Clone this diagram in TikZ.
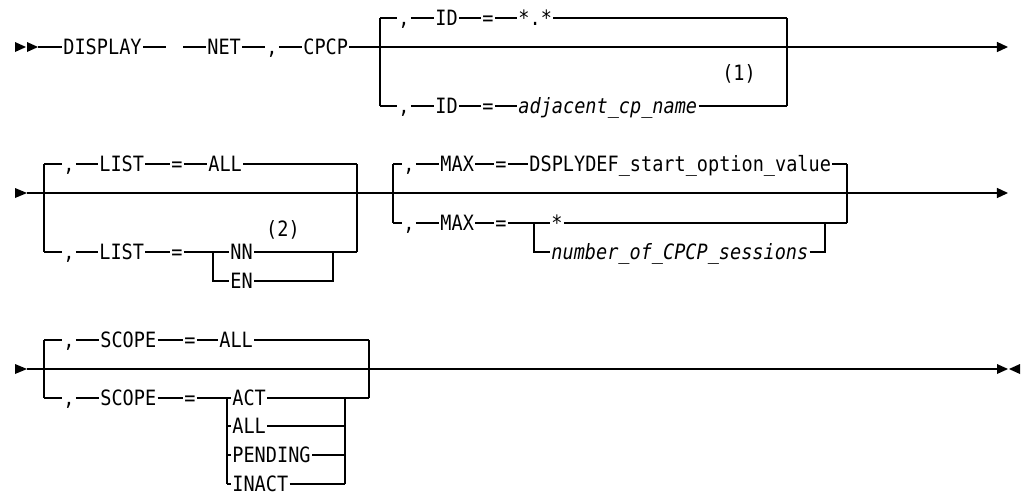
\documentclass[tikz,border=0pt]{standalone}
\usepackage{fontspec}
\setmainfont[FakeStretch=0.88]{DejaVu Sans Mono}
\usepackage{tikz}
\usetikzlibrary{positioning, arrows.meta}

\begin{document}
\begin{tikzpicture}[
    x=0.02cm, y=-0.02cm,
    kw/.style={anchor=west, inner xsep=0.6pt, inner ysep=0pt, text height=8.6pt, text depth=0pt, font=\fontsize{12}{14}\selectfont},
    var/.style={kw, font=\fontsize{12}{14}\selectfont\itshape},
    fnote/.style={font=\fontsize{12}{14}\selectfont},
    rail/.style={line width=0.8pt},
    arr/.style={rail, -{Triangle[length=6.3pt, width=5.7pt]}},
]
\useasboundingbox (0,0) rectangle (1024,494);

% --- Row 1: DISPLAY NET,CPCP ---
\fill (15,42) -- (26,47) -- (15,52) -- cycle;
\fill (27,42) -- (38,47) -- (27,52) -- cycle;
\coordinate (A0) at (38,47);
\node[kw] (DISP) at (62,47) {DISPLAY};
\coordinate (A1) at (166,47);
\coordinate (A2) at (183,47);
\node[kw] (NET) at (206,47) {NET};
\node[kw] (C0) at (265,47) {,};
\node[kw] (CPCP) at (302,47) {CPCP};
\coordinate (A3) at (1008,47);
\draw[rail] (A0) -- (DISP) -- (A1);
\draw[rail] (A2) -- (NET) -- (C0) -- (CPCP);
\draw[arr] (CPCP) -- (A3);

% ID box
\coordinate (IDtl) at (380,18);
\coordinate (IDbl) at (380,106);
\coordinate (IDtr) at (787,18);
\coordinate (IDbr) at (787,106);
\draw[rail] (IDtl) -- (IDbl);
\draw[rail] (IDtr) -- (IDbr);
\node[kw] (IDc1) at (397,18) {,};
\node[kw] (ID1) at (434,18) {ID};
\node[kw] (IDe1) at (481,18) {=};
\node[kw] (IDv1) at (517,18) {*.*};
\draw[rail] (IDtl) -- (IDc1) -- (ID1) -- (IDe1) -- (IDv1) -- (IDtr);
\node[kw] (IDc2) at (397,106) {,};
\node[kw] (ID2) at (434,106) {ID};
\node[kw] (IDe2) at (481,106) {=};
\node[var] (IDv2) at (517,106) {adjacent\_cp\_name};
\draw[rail] (IDbl) -- (IDc2) -- (ID2) -- (IDe2) -- (IDv2) -- (IDbr);
\node[fnote] (N1) at (739,74) {(1)};

% --- Row 2: LIST and MAX ---
\fill (15,188) -- (27,193) -- (15,198) -- cycle;
\coordinate (B0) at (27,193);
\coordinate (B1) at (1008,193);
\draw[arr] (B0) -- (B1);

% LIST box
\coordinate (Ltl) at (44,164);
\coordinate (Lbl) at (44,252);
\coordinate (Ltr) at (357,164);
\coordinate (Lbr) at (357,252);
\draw[rail] (Ltl) -- (Lbl);
\draw[rail] (Ltr) -- (Lbr);
\node[kw] (Lc1) at (62,164) {,};
\node[kw] (L1) at (98,164) {LIST};
\node[kw] (Le1) at (170,164) {=};
\node[kw] (Lv1) at (207,164) {ALL};
\draw[rail] (Ltl) -- (Lc1) -- (L1) -- (Le1) -- (Lv1) -- (Ltr);
\node[kw] (Lc2) at (62,252) {,};
\node[kw] (L2) at (98,252) {LIST};
\node[kw] (Le2) at (170,252) {=};
\coordinate (Lj) at (213,252);
\coordinate (Ljb) at (213,281);
\coordinate (Lk) at (333,252);
\coordinate (Lkb) at (333,281);
\node[kw] (NN) at (229,252) {NN};
\node[kw] (EN) at (229,281) {EN};
\draw[rail] (Lbl) -- (Lc2) -- (L2) -- (Le2) -- (Lj) -- (NN) -- (Lk) -- (Lbr);
\draw[rail] (Lj) -- (Ljb) -- (EN) -- (Lkb) -- (Lk);
\node[fnote] (N2) at (283,230) {(2)};

% MAX box
\coordinate (Mtl) at (393,164);
\coordinate (Mbl) at (393,223);
\coordinate (Mtr) at (847,164);
\coordinate (Mbr) at (847,223);
\draw[rail] (Mtl) -- (Mbl);
\draw[rail] (Mtr) -- (Mbr);
\node[kw] (Mc1) at (402,164) {,};
\node[kw] (M1) at (439,164) {MAX};
\node[kw] (Me1) at (494,164) {=};
\node[kw] (Mv1) at (528,164) {DSPLYDEF\_start\_option\_value};
\draw[rail] (Mtl) -- (Mc1) -- (M1) -- (Me1) -- (Mv1) -- (Mtr);
\node[kw] (Mc2) at (402,223) {,};
\node[kw] (M2) at (439,223) {MAX};
\node[kw] (Me2) at (494,223) {=};
\coordinate (Mj) at (534,223);
\coordinate (Mjb) at (534,252);
\coordinate (Mk) at (825,223);
\coordinate (Mkb) at (825,252);
\node[kw] (MS) at (550,223) {*};
\node[var] (MN) at (550,252) {number\_of\_CPCP\_sessions};
\draw[rail] (Mbl) -- (Mc2) -- (M2) -- (Me2) -- (Mj) -- (MS) -- (Mbr);
\draw[rail] (Mj) -- (Mjb) -- (MN) -- (Mkb) -- (Mk);

% --- Row 3: SCOPE ---
\fill (15,364) -- (27,369) -- (15,374) -- cycle;
\coordinate (C0s) at (27,369);
\coordinate (C1s) at (997,369);
\draw[rail] (C0s) -- (C1s);
\fill (997,364) -- (1008,369) -- (997,374) -- cycle;
\fill (1020,364) -- (1009,369) -- (1020,374) -- cycle;

% SCOPE box
\coordinate (Stl) at (44,340);
\coordinate (Sbl) at (44,398);
\coordinate (Str) at (369,340);
\coordinate (Sbr) at (369,398);
\draw[rail] (Stl) -- (Sbl);
\draw[rail] (Str) -- (Sbr);
\node[kw] (Sc1) at (62,340) {,};
\node[kw] (S1) at (99,340) {SCOPE};
\node[kw] (Se1) at (183,340) {=};
\node[kw] (Sv1) at (218,340) {ALL};
\draw[rail] (Stl) -- (Sc1) -- (S1) -- (Se1) -- (Sv1) -- (Str);
\node[kw] (Sc2) at (62,398) {,};
\node[kw] (S2) at (99,398) {SCOPE};
\node[kw] (Se2) at (183,398) {=};
\foreach \w/\y [count=\i] in {ACT/398, ALL/426, PENDING/455, INACT/484} {
    \coordinate (Sj\i) at (227,\y);
    \coordinate (Sk\i) at (345,\y);
    \node[kw] (Sv\i) at (231,\y) {\w};
    \draw[rail] (Sj\i) -- (Sv\i) -- (Sk\i);
}
\draw[rail] (Sbl) -- (Sc2) -- (S2) -- (Se2) -- (Sj1);
\draw[rail] (Sj1) -- (Sj4);
\draw[rail] (Sk1) -- (Sk4);
\draw[rail] (Sk1) -- (Sbr);

\end{tikzpicture}
\end{document}
